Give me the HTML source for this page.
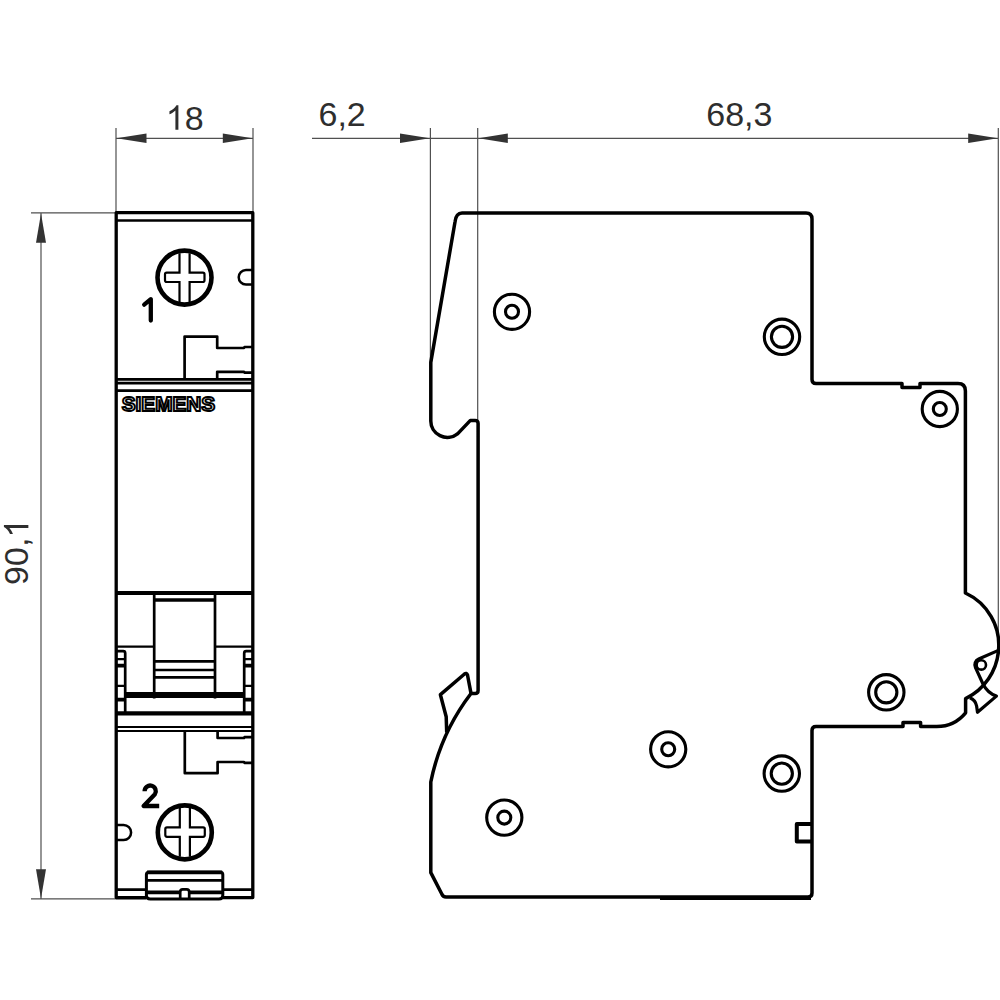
<!DOCTYPE html>
<html><head><meta charset="utf-8"><style>
html,body{margin:0;padding:0;background:#fff;width:1000px;height:1000px;overflow:hidden}
svg{display:block}
text{font-family:"Liberation Sans",sans-serif}
</style></head><body>
<svg width="1000" height="1000" viewBox="0 0 1000 1000">
<rect width="1000" height="1000" fill="#fff"/>
<!-- ===== dimensions ===== -->
<g stroke="#505050" stroke-width="1.2" fill="none">
  <path d="M116 128V213M253 128V213M116 138.3H253"/>
  <path d="M31 212.8H116M31 898.8H146M41 213V899"/>
  <path d="M312 138.3H998M430.4 128V362M477.7 128V420M998.3 128V640"/>
</g>
<g fill="#333" stroke="none">
  <path d="M116.5 138.3L146.5 133.6V143Z"/>
  <path d="M252.5 138.3L222.8 133.6V143Z"/>
  <path d="M41 213.5L36 242.8H46Z"/>
  <path d="M41 898.5L36 869.2H46Z"/>
  <path d="M429.8 138.3L400 133.6V143Z"/>
  <path d="M478.5 138.3L507.8 133.6V143Z"/>
  <path d="M997.8 138.3L968.2 133.6V143Z"/>
</g>
<g fill="#2e2e2e" font-size="34">
  <text x="184.64" y="129.66">8</text>
  <path transform="translate(165.73 129.66) scale(0.016602 -0.016602)" d="M763 0H583V1147C540 1106 483 1064 413 1023C343 982 280 951 224 930V1104C325 1152 413 1209 488 1276C563 1343 616 1408 648 1472H763Z"/>
  <text x="318.47" y="125.76">6,2</text>
  <text x="706.27" y="125.66">68,3</text>
  <g transform="translate(28.36 584.9) rotate(-90)">
    <text x="0" y="0">90,</text>
    <path transform="translate(47.26 0) scale(0.016602 -0.016602)" d="M763 0H583V1147C540 1106 483 1064 413 1023C343 982 280 951 224 930V1104C325 1152 413 1209 488 1276C563 1343 616 1408 648 1472H763Z"/>
  </g>
</g>
<!-- ===== front view ===== -->
<g stroke="#000" fill="none" stroke-width="2.7" stroke-linejoin="round">
  <path d="M146.4 897.6H116.2V212.7H252.8V897.6H222.8" stroke-width="3.3"/>
  <path d="M116.4 220.5H252.7"/>
  <!-- notch top right -->
  <path d="M252.8 270H246A7.3 7.3 0 0 0 246 284.6H252.8" stroke-width="2.5"/>
  <!-- terminal top -->
  <path d="M184.6 379V336.6H217.2V348H244L244.5 347H252.7M217.2 379V371.8H244L244.5 372.6H252.7"/>
  <path d="M116.4 379.4H252.7M116.4 383.2H252.7M116.4 390.6H252.7"/>
  <!-- toggle area -->
  <path d="M116.4 593H252.7" stroke-width="4.2"/>
  <path d="M154.2 593V698.6M215 593V698.6"/>
  <path d="M154.2 600H215" stroke-width="3.4"/>
  <path d="M154.2 661.4H215M154.2 670H215M154.2 677.3H215"/>
  <path d="M116.4 646.6H154.2M215 646.6H252.7" stroke-width="2.4"/>
  <path d="M125.2 695H244.2" stroke-width="6"/>
  <path d="M116.4 651.2H123.2Q125.2 651.2 125.2 653.2V712M252.7 651.2H246.2Q244.2 651.2 244.2 653.2V712"/>
  <path d="M116.4 659.2H125.2M116.4 685.8H125.2M244.2 659.2H252.7M244.2 685.8H252.7" stroke-width="2.2"/>
  <path d="M116.4 665.6H125.2M116.4 699.6H125.2M244.2 665.6H252.7M244.2 699.6H252.7" stroke-width="3.8"/>
  <path d="M116.4 713.4H252.7" stroke-width="4.4"/>
  <path d="M116.4 726.9H252.7M116.4 731.1H252.7" stroke-width="2"/>
  <!-- terminal bottom -->
  <path d="M184.8 730.8V773.2H217.6V762H244L244.5 762.8H252.7M217.6 730.8V738H244L244.5 737.2H252.7"/>
  <!-- notch bottom left -->
  <path d="M116.2 825H123.6A7.5 7.5 0 0 1 123.6 840H116.2" stroke-width="2.5"/>
  <!-- clip -->
  <path d="M116.4 889.6H146.4M222.8 889.6H252.7"/>
  <path d="M146.4 896V874.5Q146.4 872.2 149 872.2H220.3Q222.8 872.2 222.8 874.5V895Q222.8 899 218.8 899H150.4Q146.4 899 146.4 895" stroke-width="3"/>
  <path d="M147 872.4H222.2" stroke-width="3.6"/>
  <path d="M146.4 880.4H222.8"/>
  <path d="M146.4 892.4H180.2M189.2 892.4H222.8" stroke-width="3.6"/>
  <path d="M180.2 899V892Q180.2 889.4 182.8 889.4H186.6Q189.2 889.4 189.2 892V899"/>
</g>
<!-- screws front -->
<g stroke="#000" fill="none">
  <circle cx="184.5" cy="277.6" r="27" stroke-width="4.6"/>
  <path d="M179.5 253.3V272.6H166.7Q165 272.6 165 274.3V280.3Q165 282 166.7 282H179.5V301.9M189.6 253.3V272.6H202.8Q204.5 272.6 204.5 274.3V280.3Q204.5 282 202.8 282H189.6V301.9" stroke-width="2.2"/>
  <circle cx="184.8" cy="832.4" r="27" stroke-width="4.6"/>
  <path d="M179.8 808.1V827.4H167Q165.3 827.4 165.3 829.1V835.1Q165.3 836.8 167 836.8H179.8V856.7M189.9 808.1V827.4H203.1Q204.8 827.4 204.8 829.1V835.1Q204.8 836.8 203.1 836.8H189.9V856.7" stroke-width="2.2"/>
</g>
<g stroke="#000" fill="none" stroke-width="4.3" stroke-linejoin="round" stroke-linecap="round">
  <path d="M144.2 304.6L150.8 299.2V320.6"/>
  <path d="M144.6 791.2A5.6 5.6 0 1 1 154.9 794.2L143.6 806H159.2" stroke-linecap="butt"/>
</g>
<text x="121.7" y="411.1" font-size="20.5" font-weight="bold" textLength="93.5" lengthAdjust="spacingAndGlyphs" fill="#fff" stroke="#000" stroke-width="1.9">SIEMENS</text>
<!-- ===== side view ===== -->
<g stroke="#000" fill="none" stroke-width="3.5" stroke-linejoin="round">
  <path d="M462 213H806Q812 213 812 219V379.5Q812 383.5 816 383.5H902V387.5H920V383.5H958Q965.4 383.5 965.4 390.9V593A57.3 57.3 0 0 1 998.5 650.7A58.8 58.8 0 0 1 965.6 698.6V712.8A37.5 37.5 0 0 1 936.8 726.5H920.6V722.4H903V726.5H816Q812 726.5 812 730.5V893Q812 897 808 897H446Q443 897 441.8 894L430.8 872.6V782A216.2 216.2 0 0 1 471 693.5H475.1Q478.1 693.5 478.1 690.5V423.4Q478.1 420.4 475.1 420.4H470.4L457.8 433.6A16.5 16.5 0 0 1 430.8 420.3V362.4L455 222Q456 213 462 213Z"/>
  <path d="M660 898.6H811" stroke-width="2.6"/>
  <path d="M812 823.9H796.8V841.5H812" stroke-width="4"/>
  <!-- latch right -->
  <path d="M997.8 650.6L978.7 659A6.4 6.4 0 0 0 975.5 667.7L983 684Q987.5 693 996.4 696.1L977.5 712.2L976.6 706Q975.5 700 969.8 697.8" stroke-width="3.2"/>
  <circle cx="981.3" cy="664.9" r="4.7" stroke-width="2.6"/>
  <!-- hook left -->
  <path d="M471 693.3L467.5 675Q466.5 672.5 464.5 674L440.4 694.7L446.2 716.7L446.7 732.5"/>
</g>
<g stroke="#000" fill="none" stroke-width="3.1">
  <circle cx="512" cy="311.8" r="17.6"/><circle cx="512" cy="311.8" r="6.5"/>
  <circle cx="782" cy="336.8" r="17.7"/><circle cx="782" cy="336.8" r="10.6"/>
  <circle cx="939.8" cy="409" r="17.6"/><circle cx="939.8" cy="409" r="6.5"/>
  <circle cx="886.3" cy="692.3" r="17.7"/><circle cx="886.3" cy="692.3" r="10.6"/>
  <circle cx="668.2" cy="749.3" r="17.6"/><circle cx="668.2" cy="749.3" r="6.5"/>
  <circle cx="781.8" cy="773.6" r="17.7"/><circle cx="781.8" cy="773.6" r="10.6"/>
  <circle cx="504.3" cy="817.6" r="17.6"/><circle cx="504.3" cy="817.6" r="6.5"/>
</g>
</svg>
</body></html>
